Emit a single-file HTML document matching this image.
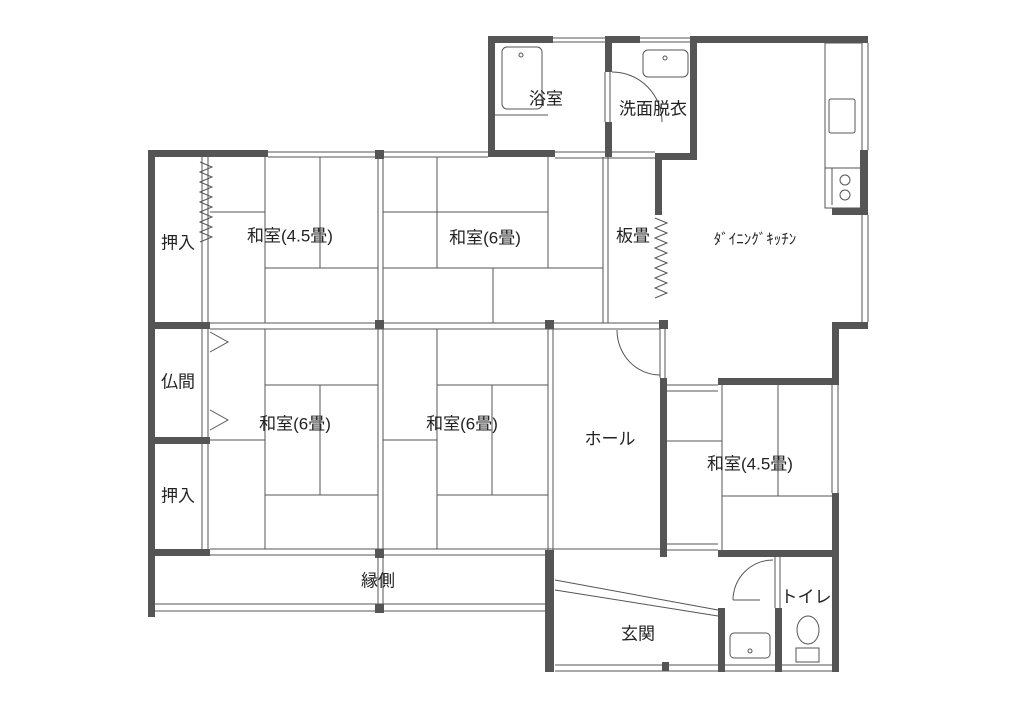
<!DOCTYPE html>
<html><head><meta charset="utf-8"><style>
html,body{margin:0;padding:0;background:#fff;}
svg{display:block}
text{font-family:"Liberation Sans","Noto Sans CJK JP",sans-serif;font-size:17px;fill:#222;text-anchor:middle;dominant-baseline:middle}
</style></head><body>
<svg width="1024" height="724" viewBox="0 0 1024 724" xmlns="http://www.w3.org/2000/svg">
<rect width="1024" height="724" fill="#fff"/>
<g stroke="#555" stroke-width="1" fill="none">
<path d="M268 152H488M268 157H488"/>
<path d="M553 38H605M553 42H605M640 38H690M640 42H690"/>
<path d="M555 152H655M555 158H655"/>
<path d="M210 323H660M210 329H660"/>
<path d="M210 549H660M210 555H548"/>
<path d="M155 604H548M155 611H548"/>
<path d="M555 665H832M555 671H832"/>
<path d="M378 157V607M383 157V607"/>
<path d="M548 329V550M553 329V550"/>
<path d="M202 157V322M208 157V322M202 329V549M208 329V549"/>
<path d="M862 43V150M868 43V150M862 215V322M868 215V322"/>
<path d="M832 385V493M838 385V493"/>
<path d="M603 157V323M608 157V323"/>
<path d="M660 329V378M665 329V378"/>
<path d="M667 385H718M667 391H718M667 544H718M667 550H718"/>
<path d="M605 72V122M610 72V122"/>
<path d="M775 557V608M780 557V608"/>
<path d="M265 157V323M320 157V268M210 212H265M265 268H378"/>
<path d="M437 157V268M383 212H548M548 157V268M383 268H603M493 268V323"/>
<path d="M265 329V549M265 385H378M320 385V495M265 495H378M210 440H265"/>
<path d="M437 329V549M437 385H548M492 385V495M437 495H548M383 440H437"/>
<path d="M722 385V550M778 385V496M667 441H722M722 496H832"/>
<path d="M555 580L718 610M555 590L718 616"/>
<rect x="825" y="43" width="37" height="165"/>
<rect x="829" y="99" width="26" height="34" rx="2"/>
<path d="M825 168H860M832 168V205"/>
<circle cx="845" cy="180" r="5"/><circle cx="845" cy="195" r="5"/>
<rect x="502" y="47" width="40" height="62" rx="5"/>
<circle cx="521" cy="55" r="2"/>
<path d="M495 115H548"/>
<rect x="643" y="50" width="45" height="27" rx="5"/>
<circle cx="665" cy="58" r="2"/>
<rect x="730" y="633" width="40" height="25" rx="4"/>
<circle cx="750" cy="651" r="2"/>
<ellipse cx="808" cy="630" rx="11" ry="14"/>
<rect x="796" y="648" width="23" height="14"/>
<path d="M612 72A50 50 0 0 1 662 122"/>
<path d="M617 330A43 45 0 0 0 660 375"/>
<path d="M773 560A40 40 0 0 0 733 600"/>
<path d="M733 600H760"/>
<path d="M210 332L228 342L210 352M210 410L228 420L210 430"/>
<path d="M200 162 L212 167 L200 172 L212 177 L200 182 L212 187 L200 192 L212 197 L200 202 L212 207 L200 212 L212 217 L200 222 L212 227 L200 232 L212 237 L200 242"/>
<path d="M655 218 L667 223 L655 228 L667 233 L655 238 L667 243 L655 248 L667 253 L655 258 L667 263 L655 268 L667 273 L655 278 L667 283 L655 288 L667 293 L655 298"/>
</g>
<g fill="#555">
<rect x="148" y="150" width="7" height="467"/>
<rect x="148" y="150" width="120" height="7"/>
<rect x="155" y="322" width="55" height="7"/>
<rect x="155" y="437" width="55" height="7"/>
<rect x="155" y="549" width="55" height="7"/>
<rect x="375" y="150" width="9" height="9"/>
<rect x="375" y="320" width="9" height="9"/>
<rect x="375" y="549" width="9" height="9"/>
<rect x="375" y="604" width="9" height="9"/>
<rect x="545" y="320" width="9" height="9"/>
<rect x="659" y="320" width="9" height="9"/>
<rect x="488" y="36" width="7" height="121"/>
<rect x="488" y="36" width="65" height="7"/>
<rect x="488" y="150" width="67" height="7"/>
<rect x="605" y="36" width="7" height="36"/>
<rect x="605" y="122" width="7" height="35"/>
<rect x="605" y="36" width="35" height="7"/>
<rect x="690" y="36" width="178" height="7"/>
<rect x="690" y="36" width="7" height="124"/>
<rect x="655" y="153" width="42" height="7"/>
<rect x="655" y="153" width="7" height="62"/>
<rect x="860" y="150" width="8" height="65"/>
<rect x="832" y="208" width="36" height="7"/>
<rect x="832" y="322" width="36" height="7"/>
<rect x="832" y="322" width="7" height="63"/>
<rect x="718" y="378" width="121" height="7"/>
<rect x="660" y="378" width="7" height="179"/>
<rect x="718" y="550" width="121" height="7"/>
<rect x="832" y="493" width="7" height="179"/>
<rect x="545" y="550" width="9" height="122"/>
<rect x="718" y="608" width="7" height="64"/>
<rect x="775" y="608" width="7" height="64"/>
<rect x="662" y="662" width="7" height="9"/>
</g>
<text x="178" y="244">押入</text>
<text x="290" y="237">和室(4.5畳)</text>
<text x="485" y="239">和室(6畳)</text>
<text x="633" y="237">板畳</text>
<text x="755" y="240" style="font-size:15px">ﾀﾞｲﾆﾝｸﾞｷｯﾁﾝ</text>
<text x="546" y="100">浴室</text>
<text x="653" y="110">洗面脱衣</text>
<text x="178" y="383">仏間</text>
<text x="178" y="497">押入</text>
<text x="295" y="425">和室(6畳)</text>
<text x="462" y="425">和室(6畳)</text>
<text x="610" y="440">ホール</text>
<text x="750" y="465">和室(4.5畳)</text>
<text x="378" y="582">縁側</text>
<text x="638" y="635">玄関</text>
<text x="806" y="598">トイレ</text>
</svg>
</body></html>
